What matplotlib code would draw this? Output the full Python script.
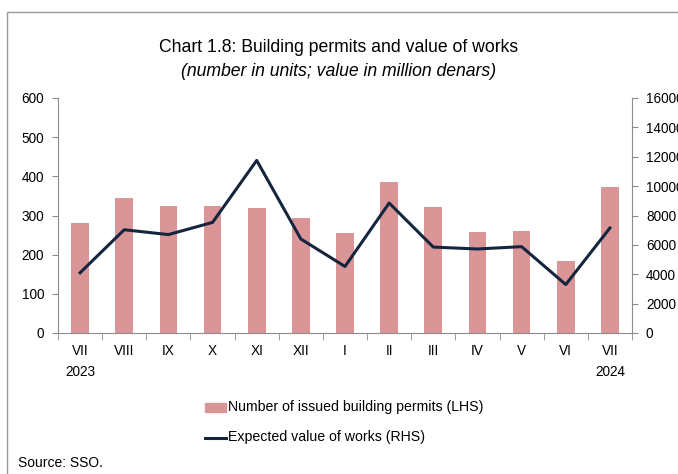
import matplotlib
matplotlib.use("Agg")

import numpy as np
import matplotlib.pyplot as plt
from matplotlib.patches import Rectangle
from matplotlib.lines import Line2D

plt.rcParams["font.family"] = ["Liberation Sans", "DejaVu Sans"]

months = ["VII", "VIII", "IX", "X", "XI", "XII", "I", "II", "III", "IV", "V", "VI", "VII"]
years = ["2023", "", "", "", "", "", "", "", "", "", "", "", "2024"]
permits = [280, 344, 325, 325, 318, 293, 256, 386, 321, 257, 260, 185, 373]
value_works = [4100, 7030, 6700, 7530, 11750, 6400, 4530, 8850, 5850, 5720, 5880, 3300, 7150]

BAR_COLOR = "#da9696"
LINE_COLOR = "#14263f"
SPINE = "#8c8c8c"

fig = plt.figure(figsize=(6.78, 4.74), dpi=100)
ax1 = fig.add_axes([58 / 678, 1 - 333 / 474, 574 / 678, 235 / 474])
ax2 = ax1.twinx()

x = np.arange(len(months))
ax1.bar(x, permits, width=0.4, color=BAR_COLOR, zorder=2)
ax2.plot(x, value_works, color=LINE_COLOR, lw=2.2, zorder=3)

ax1.set_xlim(-0.5, len(months) - 0.5)
ax1.set_ylim(0, 600)
ax1.set_yticks(range(0, 601, 100))
ax2.set_ylim(0, 16000)
ax2.set_yticks(range(0, 16001, 2000))

# category labels with year below first/last
labels = [m + ("\n" + y if y else "") for m, y in zip(months, years)]
ax1.set_xticks(x)
ax1.set_xticklabels(labels, fontsize=9.8, va="top", linespacing=1.6)
ax1.tick_params(axis="x", length=0, pad=8)
ax1.set_xticks(np.arange(-0.5, len(months), 1), minor=True)
ax1.tick_params(axis="x", which="minor", length=5, direction="out", color=SPINE)

for ax in (ax1, ax2):
    ax.spines["top"].set_visible(False)
    for s in ("left", "right", "bottom"):
        ax.spines[s].set_color(SPINE)
ax1.spines["right"].set_visible(False)
ax2.spines["left"].set_visible(False)
ax2.spines["bottom"].set_visible(False)

ax1.tick_params(axis="y", labelsize=9.8, length=4, color=SPINE, pad=6)
ax2.tick_params(axis="y", labelsize=9.8, length=4, color=SPINE, pad=6)

fig.text(0.5, 1 - 47 / 474, "Chart 1.8: Building permits and value of works",
         ha="center", va="center", fontsize=12.7)
fig.text(0.5, 1 - 72 / 474, "(number in units; value in million denars)",
         ha="center", va="center", fontsize=12.7, style="italic")

# legend
fig.patches.append(Rectangle((205 / 678, 1 - 412 / 474), 21 / 678, 9 / 474,
                             transform=fig.transFigure, color=BAR_COLOR))
fig.text(228 / 678, 1 - 407 / 474, "Number of issued building permits (LHS)",
         ha="left", va="center", fontsize=10.2)
fig.lines.append(Line2D([205 / 678, 226 / 678], [1 - 438 / 474, 1 - 438 / 474],
                        transform=fig.transFigure, color=LINE_COLOR, lw=2.2))
fig.text(228 / 678, 1 - 437 / 474, "Expected value of works (RHS)",
         ha="left", va="center", fontsize=10.2)

fig.text(18 / 678, 1 - 463 / 474, "Source: SSO.", ha="left", va="center", fontsize=10)

# outer frame
fig.patches.append(Rectangle((7 / 678, -0.1), 1.2, 1 - 12 / 474 + 0.1,
                             transform=fig.transFigure, fill=False,
                             edgecolor="#9a9a9a", lw=1.0))

fig.savefig("out.png", dpi=100)
plt.close(fig)
